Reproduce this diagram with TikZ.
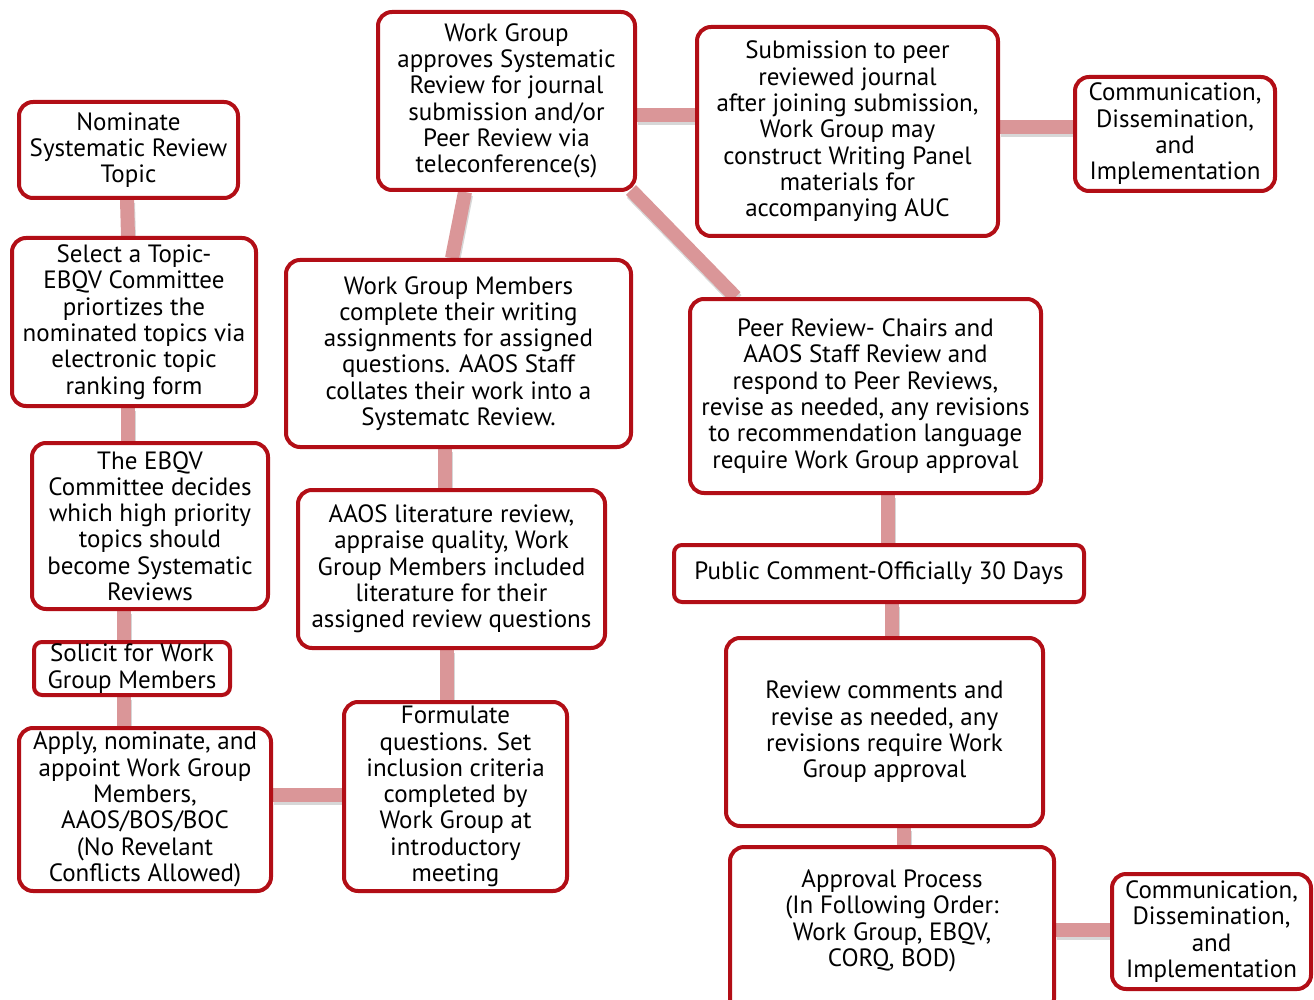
\documentclass[tikz,border=0pt]{standalone}
\usepackage{fontspec}
\setmainfont{PT Sans}
\usetikzlibrary{backgrounds}
\definecolor{boxred}{RGB}{178,14,22}
\definecolor{connpink}{RGB}{218,150,152}
\tikzset{
  box/.style={draw=boxred, line width=4pt, fill=white, rounded corners=14pt,
    align=center, inner sep=0pt, font=\fontsize{25}{26.3}\selectfont},
  sbox/.style={box, rounded corners=8pt},
  txt/.style={align=center, inner sep=0pt, font=\fontsize{25}{26.3}\selectfont},
  conn/.style={draw=connpink, line width=14pt,
    preaction={draw=black!45, opacity=0.35, line width=14pt, transform canvas={shift={(1pt,-3pt)}}}},
}
\begin{document}
\begin{tikzpicture}[x=1pt,y=-1pt]
\useasboundingbox (0,0) rectangle (1314,1000);
\node[box, minimum width=219, minimum height=96] (nom) at (128.5,150) {Nominate\\Systematic Review\\Topic};
\node[box, minimum width=244, minimum height=168] (sel) at (134,322) {Select a Topic-\\EBQV Committee\\priortizes the\\nominated topics via\\electronic topic\\ranking form};
\node[box, minimum width=236, minimum height=166] (ebqv) at (150,526) {The EBQV\\Committee decides\\which high priority\\topics should\\become Systematic\\Reviews};
\node[sbox, minimum width=196, minimum height=53] (sol) at (132,668.5) {Solicit for Work\\Group Members};
\node[box, minimum width=252, minimum height=163] (app) at (145,809.5) {Apply, nominate, and\\appoint Work Group\\Members,\\AAOS/BOS/BOC\\(No Revelant\\Conflicts Allowed)};
\node[box, minimum width=223, minimum height=189] (form) at (455.5,796.5) {Formulate\\questions. Set\\inclusion criteria\\completed by\\Work Group at\\introductory\\meeting};
\node[box, minimum width=307, minimum height=158] (lit) at (451.5,569) {AAOS literature review,\\appraise quality, Work\\Group Members included\\literature for their\\assigned review questions};
\node[box, minimum width=345, minimum height=187] (wgm) at (458.5,353.5) {Work Group Members\\complete their writing\\assignments for assigned\\questions. AAOS Staff\\collates their work into a\\Systematc Review.};
\node[box, minimum width=257, minimum height=178] (appr) at (506.5,101) {Work Group\\approves Systematic\\Review for journal\\submission and/or\\Peer Review via\\teleconference(s)};
\node[box, minimum width=301, minimum height=209] (sub) at (847.5,131.5) {Submission to peer\\reviewed journal\\after joining submission,\\Work Group may\\construct Writing Panel\\materials for\\accompanying AUC};
\node[box, minimum width=200, minimum height=114] (com1) at (1175,134) {Communication,\\Dissemination,\\and\\Implementation};
\node[box, minimum width=351, minimum height=194] (peer) at (865.5,396) {Peer Review- Chairs and\\AAOS Staff Review and\\respond to Peer Reviews,\\revise as needed, any revisions\\to recommendation language\\require Work Group approval};
\node[sbox, minimum width=410, minimum height=57] (pub) at (879,573.5) {Public Comment-Officially 30 Days};
\node[box, minimum width=317, minimum height=188] (rev) at (884.5,732) {Review comments and\\revise as needed, any\\revisions require Work\\Group approval};
\node[box, minimum width=324, minimum height=166] (aprv) at (892,930) {};
\node[txt] (aprvt) at (892,921) {Approval Process\\(In Following Order:\\Work Group, EBQV,\\CORQ, BOD)};
\node[box, minimum width=199, minimum height=115] (com2) at (1211.5,931.5) {Communication,\\Dissemination,\\and\\Implementation};
\begin{scope}[on background layer]
\draw[conn] ([xshift=-1.5]nom.south) -- ([xshift=-6]sel.north);
\draw[conn] ([xshift=-6]sel.south) -- ([xshift=-22]ebqv.north);
\draw[conn] ([xshift=-26]ebqv.south) -- ([xshift=-8]sol.north);
\draw[conn] ([xshift=-8]sol.south) -- ([xshift=-21]app.north);
\draw[conn] ([yshift=14.5]app.east) -- ([yshift=1.5]form.west);
\draw[conn] ([xshift=-8.5]form.north) -- ([xshift=-4.5]lit.north |- lit.south);
\draw[conn] ([xshift=-6.5]lit.north) -- ([xshift=-13.5]wgm.south);
\draw[conn] ([xshift=-6.5]wgm.north) -- ([xshift=-41.5]appr.south);
\draw[conn] ([yshift=-14]appr.east) -- ([yshift=16.5]sub.west);
\draw[conn] ([yshift=4.5]sub.east) -- ([yshift=7]com1.west);
\draw[conn] ([xshift=-6,yshift=2]appr.south east) -- ([xshift=-130]peer.north);
\draw[conn] ([xshift=22.5]peer.south) -- ([xshift=9]pub.north);
\draw[conn] ([xshift=13]pub.south) -- ([xshift=7.5]rev.north);
\draw[conn] ([xshift=19.5]rev.south) -- ([xshift=12]aprv.north);
\draw[conn] ([yshift=0]aprv.east) -- ([yshift=1.5]com2.west);
\end{scope}
\end{tikzpicture}
\end{document}
